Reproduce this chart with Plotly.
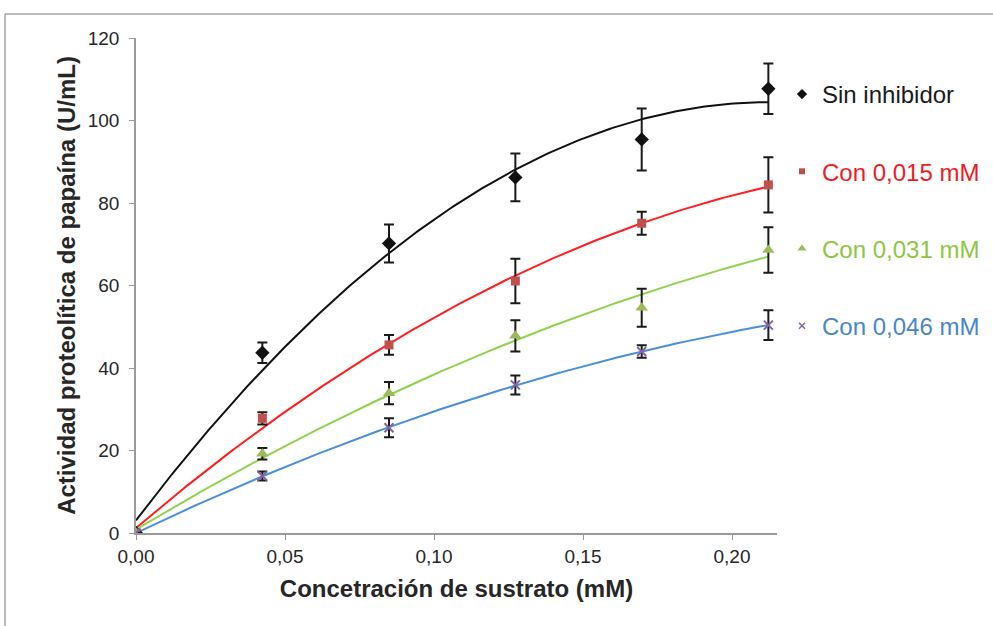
import numpy as np
import plotly.graph_objects as go

# ---- data ----
substrate_mM = [0.0, 0.0424, 0.0849, 0.1273, 0.1697, 0.2122]

sin_inhibidor = [0.0, 43.7, 70.2, 86.2, 95.4, 107.7]
sin_inhibidor_err = [0.0, 2.5, 4.6, 5.8, 7.5, 6.1]

con_0015 = [0.0, 27.8, 45.6, 61.1, 75.1, 84.4]
con_0015_err = [0.0, 1.5, 2.4, 5.4, 2.8, 6.7]

con_0031 = [0.0, 19.2, 33.9, 47.8, 54.6, 68.6]
con_0031_err = [0.0, 1.4, 2.7, 3.8, 4.6, 5.5]

con_0046 = [0.0, 13.8, 25.5, 35.9, 44.0, 50.4]
con_0046_err = [0.0, 1.1, 2.3, 2.3, 1.5, 3.6]

series_names = ["Sin inhibidor", "Con 0,015 mM", "Con 0,031 mM", "Con 0,046 mM"]
y_ticks = [0, 20, 40, 60, 80, 100, 120]
x_ticks = [0.0, 0.05, 0.10, 0.15, 0.20]

series = [
    (series_names[0], sin_inhibidor, sin_inhibidor_err, "diamond", "#111111", "#111111", "#1a1a1a", 11),
    (series_names[1], con_0015, con_0015_err, "square", "#c0504d", "#ff1f1f", "#ee1c24", 9),
    (series_names[2], con_0031, con_0031_err, "triangle-up", "#9bbb59", "#92d050", "#8dc63f", 11),
    (series_names[3], con_0046, con_0046_err, "x-thin", "#8064a2", "#4a8fd8", "#4a86c8", 9),
]

fig = go.Figure()
x = np.array(substrate_mM)
xs = np.linspace(0, max(substrate_mM), 200)

# trendlines (2nd-order polynomial fits of each series, like Excel)
for name, y, err, sym, mcol, lcol, tcol, msz in series:
    coef = np.polyfit(x, np.array(y), 2)
    fig.add_trace(go.Scatter(
        x=xs, y=np.polyval(coef, xs), mode="lines",
        line=dict(color=lcol, width=2), showlegend=False, hoverinfo="skip"))

for i, (name, y, err, sym, mcol, lcol, tcol, msz) in enumerate(series):
    mline = dict(color=mcol, width=2) if sym == "x-thin" else dict(width=0)
    fig.add_trace(go.Scatter(
        x=substrate_mM, y=y, mode="markers", showlegend=False, name=name,
        marker=dict(symbol=sym, color=mcol, size=msz, line=mline),
        error_y=dict(type="data", array=err, visible=True, color="#1a1a1a",
                     thickness=2, width=5),
    ))
    # legend entry with the smaller legend marker
    fig.add_trace(go.Scatter(
        x=[None], y=[None], mode="markers",
        name=f"<span style='color:{tcol}'>{name}</span>",
        legendgroup=f"g{i}",
        marker=dict(symbol=sym, color=mcol, size=max(msz - 3, 6),
                    line=dict(color=mcol, width=1.5) if sym == "x-thin" else dict(width=0)),
    ))

# outer border lines (top and left) of the chart area
L, R, T, B = 136, 777, 38, 533
def px(v):
    return (v - L) / (R - L)
def py(v):
    return (B - v) / (B - T)

fig.add_shape(type="line", xref="paper", yref="paper",
              x0=px(5), x1=px(993), y0=py(14), y1=py(14),
              line=dict(color="#a6a6a6", width=1.5))
fig.add_shape(type="line", xref="paper", yref="paper",
              x0=px(5), x1=px(5), y0=py(14), y1=py(626),
              line=dict(color="#a6a6a6", width=1.5))

fig.update_layout(
    width=993, height=626,
    margin=dict(l=L, r=993 - R, t=T, b=626 - B, autoexpand=False),
    paper_bgcolor="white", plot_bgcolor="white",
    separators=",.",
    font=dict(family="Liberation Sans, Arial, sans-serif", color="#262626"),
    showlegend=True,
    legend=dict(x=px(782), y=py(72), xanchor="left", yanchor="top",
                font=dict(size=24), tracegroupgap=43, itemwidth=30,
                bgcolor="rgba(0,0,0,0)"),
    xaxis=dict(range=[0, 0.2151], tickvals=x_ticks, tickformat=".2f",
               showgrid=False, zeroline=False, showline=True, automargin=False,
               linecolor="#9a9a9a", linewidth=1.5,
               ticks="outside", ticklen=5, tickcolor="#9a9a9a",
               tickfont=dict(size=19, color="#262626"),
               title=dict(text="<b>Concetración de sustrato (mM)</b>",
                          font=dict(size=24, color="#262626"), standoff=15)),
    yaxis=dict(range=[0, 120], tickvals=y_ticks,
               showgrid=False, zeroline=False, showline=True, automargin=False,
               linecolor="#9a9a9a", linewidth=1.5,
               ticks="outside", ticklen=5, tickcolor="#9a9a9a",
               ticklabelstandoff=6,
               tickfont=dict(size=19, color="#262626"),
               title=dict(text="<b>Actividad proteolítica de papaína (U/mL)</b>",
                          font=dict(size=24, color="#262626"), standoff=5)),
)

fig.write_html("out.html", config={"displayModeBar": False},
               post_script="document.body.style.margin='0';")
